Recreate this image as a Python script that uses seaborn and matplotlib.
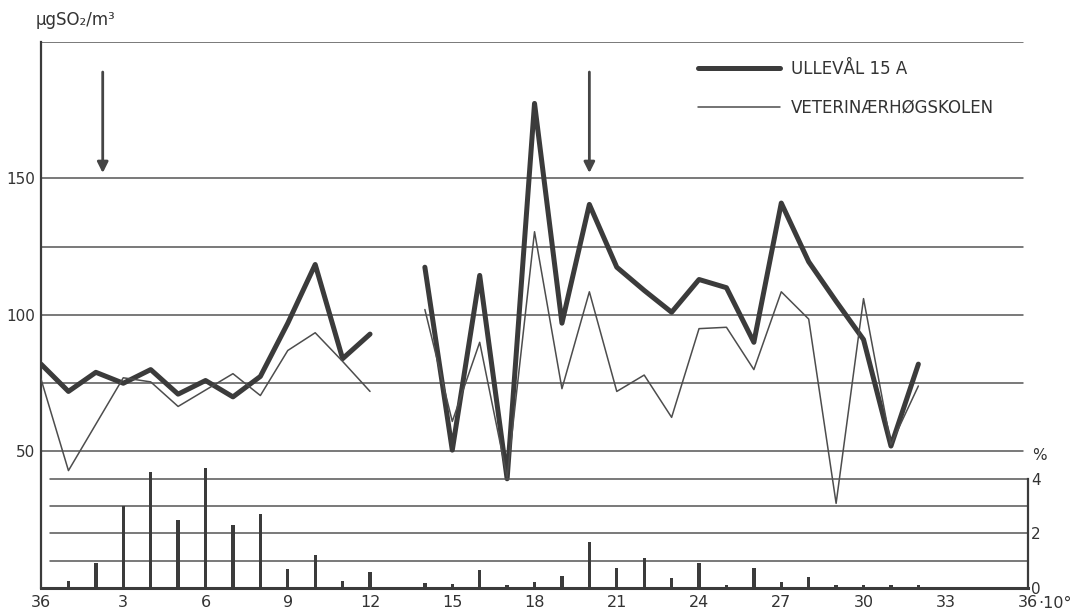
import numpy as np
import pandas as pd
import matplotlib
matplotlib.use("Agg")
import matplotlib.pyplot as plt
from matplotlib.lines import Line2D
import seaborn as sns

# Wind direction in units of 10 degrees (0 = 36)
days = list(range(0, 33))

# Mean SO2 concentration (µg/m3) per wind direction sector; no data for sector 13
ullevaal = [82, 72, 79, 75, 80, 71, 76, 70, 77.5, 97, 118.5, 84, 93,
            np.nan,
            117.5, 50.5, 114.5, 40, 177.5, 97, 140.5, 117.5, 109, 101, 113,
            110, 90, 141, 119.5, 105, 91, 52, 82]
veterinaer = [76.5, 43, 60, 77, 75.5, 66.5, 72.5, 78.5, 70.5, 87, 93.5, 83, 72,
              np.nan,
              102, 61, 90, 40.5, 130.5, 73, 108.5, 72, 78, 62.5, 95, 95.5, 80,
              108.5, 98.5, 31, 106, 52.5, 74]

# Frequency of each wind direction (%)
bar_days = [1, 2, 3, 4, 5, 6, 7, 8, 9, 10, 11, 12, 14, 15, 16, 17, 18, 19,
            20, 21, 22, 23, 24, 25, 26, 27, 28, 29, 30, 31, 32]
bar_pct = [0.25, 0.9, 3.0, 4.25, 2.5, 4.4, 2.3, 2.7, 0.7, 1.2, 0.27, 0.57,
           0.2, 0.15, 0.66, 0.1, 0.22, 0.45, 1.7, 0.75, 1.1, 0.35, 0.93, 0.1,
           0.72, 0.22, 0.4, 0.12, 0.12, 0.12, 0.12]

tick_pos = [0, 3, 6, 9, 12, 15, 18, 21, 24, 27, 30, 33, 36]
tick_labels = ["36", "3", "6", "9", "12", "15", "18", "21", "24", "27", "30",
               "33", "36"]
y_ticks = [50, 100, 150]
conc_grid = [50, 75, 100, 125, 150, 200]
pct_grid = [1, 2, 3, 4]
pct_ticks = [0, 2, 4]
arrow_days = [2.25, 20]

stations = ["ULLEVÅL 15 A", "VETERINÆRHØGSKOLEN"]

sns.set_style("white")
plt.rcParams["font.family"] = ["DejaVu Sans"]

INK = "#3b3b3b"
THIN = "#4d4d4d"
GRID = "#555555"
TEXT = "#333333"

fig = plt.figure(figsize=(10.74, 6.13), dpi=100)
ax = fig.add_axes([0.0382, 0.0408, 0.9190, 0.8907])

segment = [0 if d < 13 else 1 for d in days]
df = pd.DataFrame({
    "day": days * 2,
    "value": ullevaal + veterinaer,
    "station": [stations[0]] * len(days) + [stations[1]] * len(days),
    "segment": segment * 2,
}).dropna()

sns.lineplot(data=df, x="day", y="value", hue="station", size="station",
             units="segment", estimator=None,
             palette={stations[0]: INK, stations[1]: THIN},
             sizes={stations[0]: 3.6, stations[1]: 1.1},
             legend=False, ax=ax, zorder=3)

ax.set_xlim(0, 36)
ax.set_ylim(0, 200)

for v in conc_grid:
    ax.axhline(v, xmin=0, xmax=0.995, color=GRID, lw=1.1, zorder=1)

ax.set_yticks(y_ticks)
ax.set_yticklabels([str(t) for t in y_ticks], fontsize=11, color=TEXT)
ax.set_xticks(tick_pos)
ax.set_xticklabels(tick_labels, fontsize=11.5, color=TEXT)
ax.tick_params(axis="both", length=0)
ax.tick_params(axis="y", pad=4)
ax.tick_params(axis="x", pad=5)
ax.set_xlabel("")
ax.set_ylabel("")

for side in ["top", "right"]:
    ax.spines[side].set_visible(False)
ax.spines["left"].set_color(INK)
ax.spines["left"].set_linewidth(1.6)
ax.spines["bottom"].set_color(INK)
ax.spines["bottom"].set_linewidth(2.2)

ax.annotate("·10°", xy=(36, 0), xycoords="data", xytext=(7, -6),
            textcoords="offset points", ha="left", va="top",
            fontsize=11.5, color=TEXT)

# Wind frequency panel on a secondary scale
ax2 = ax.twinx()
ax2.set_ylim(0, 20)
for p in pct_grid:
    ax2.axhline(p, xmin=0.009, xmax=1, color=GRID, lw=1.1, zorder=1)
sns.barplot(x=bar_days, y=bar_pct, native_scale=True, width=0.12,
            color=INK, saturation=1, errorbar=None, ax=ax2, zorder=3,
            linewidth=0, edgecolor=INK)
ax2.set_xlim(0, 36)
ax2.set_ylim(0, 20)
ax2.set_yticks(pct_ticks)
ax2.set_yticklabels([str(t) for t in pct_ticks], fontsize=11, color=TEXT)
ax2.tick_params(axis="y", length=0, pad=2)
ax2.set_ylabel("")
for side in ["top", "left", "bottom"]:
    ax2.spines[side].set_visible(False)
ax2.spines["right"].set_bounds(0, 4)
ax2.spines["right"].set_color(INK)
ax2.spines["right"].set_linewidth(1.6)
ax2.text(36.15, 4.85, "%", fontsize=11, color=TEXT, ha="left", va="center")

# Arrows marking the prevailing directions
for d in arrow_days:
    ax.annotate("", xy=(d, 152), xytext=(d, 189),
                arrowprops=dict(arrowstyle="-|>", color="#454545", lw=2.0,
                                mutation_scale=16, shrinkA=0, shrinkB=0))

fig.text(0.033, 0.968, "µgSO₂/m³", fontsize=12, color=TEXT,
         ha="left", va="center")

handles = [Line2D([0], [0], color=INK, lw=3.6),
           Line2D([0], [0], color=THIN, lw=1.1)]
ax.legend(handles, stations, loc="upper left", frameon=False,
          bbox_to_anchor=(698 / 1074, 1 - 60 / 613),
          bbox_transform=fig.transFigure, borderpad=0, borderaxespad=0,
          handlelength=4.9, handletextpad=0.7, labelspacing=1.25,
          prop={"size": 12})
for t in ax.get_legend().get_texts():
    t.set_color(TEXT)

fig.savefig("out.png", dpi=100, facecolor="white")
